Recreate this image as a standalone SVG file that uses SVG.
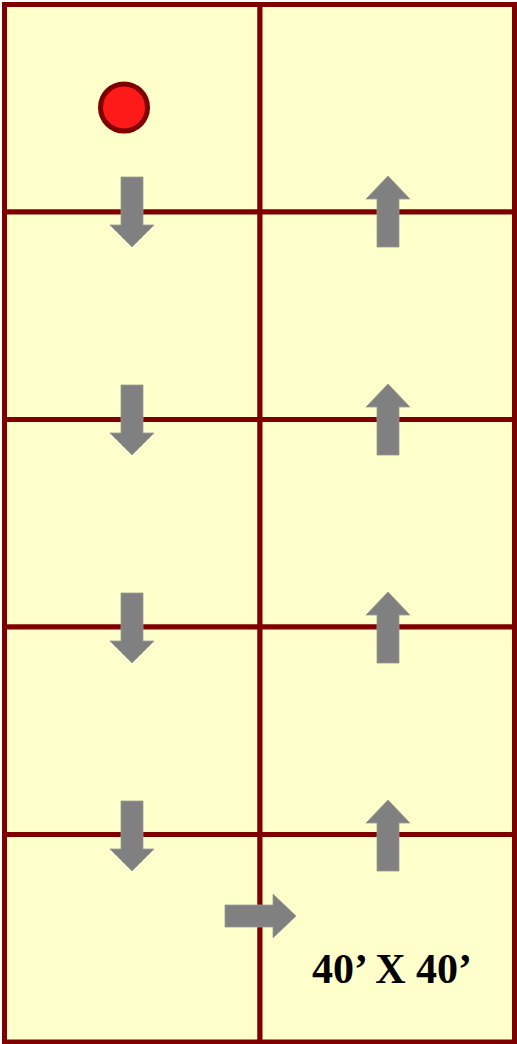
<svg xmlns="http://www.w3.org/2000/svg" width="517" height="1044" viewBox="0 0 517 1044">
<style>
.cell{fill:#FFFFCC;stroke:#7F0000;stroke-width:5}
.arr{fill:#808080;stroke:#999999;stroke-width:0.8}
.lbl{font-family:"Liberation Serif","Times New Roman",serif;font-weight:bold;font-size:42px;fill:#000}
</style>
<defs>
<polygon id="down" points="-11,0 11,0 11,48 22,48 0,70 -22,48 -11,48"/>
<polygon id="up" points="-11,71 11,71 11,23 22,23 0,0 -22,23 -11,23"/>
</defs>
<g id="grid">
<rect class="cell" x="4.5" y="4.5" width="255.5" height="207.5"/>
<rect class="cell" x="260" y="4.5" width="254.5" height="207.5"/>
<rect class="cell" x="4.5" y="212" width="255.5" height="207.5"/>
<rect class="cell" x="260" y="212" width="254.5" height="207.5"/>
<rect class="cell" x="4.5" y="419.5" width="255.5" height="207.5"/>
<rect class="cell" x="260" y="419.5" width="254.5" height="207.5"/>
<rect class="cell" x="4.5" y="627" width="255.5" height="207.5"/>
<rect class="cell" x="260" y="627" width="254.5" height="207.5"/>
<rect class="cell" x="4.5" y="834.5" width="255.5" height="207.5"/>
<rect class="cell" x="260" y="834.5" width="254.5" height="207.5"/>
</g>
<g id="start">
<circle cx="124" cy="107.5" r="23.5" fill="#FF1A1A" stroke="#7F0000" stroke-width="5"/>
</g>
<g id="connectors">
<use href="#down" class="arr" x="132" y="177"/>
<use href="#down" class="arr" x="132" y="385"/>
<use href="#down" class="arr" x="132" y="593"/>
<use href="#down" class="arr" x="132" y="801"/>
<polygon class="arr" points="225,905 273,905 273,894 296,916 273,938 273,927 225,927"/>
<use href="#up" class="arr" x="388" y="176"/>
<use href="#up" class="arr" x="388" y="384"/>
<use href="#up" class="arr" x="388" y="592"/>
<use href="#up" class="arr" x="388" y="800"/>
</g>
<g id="label">
<text class="lbl" x="392" y="983" text-anchor="middle">40’ X 40’</text>
</g>
</svg>
